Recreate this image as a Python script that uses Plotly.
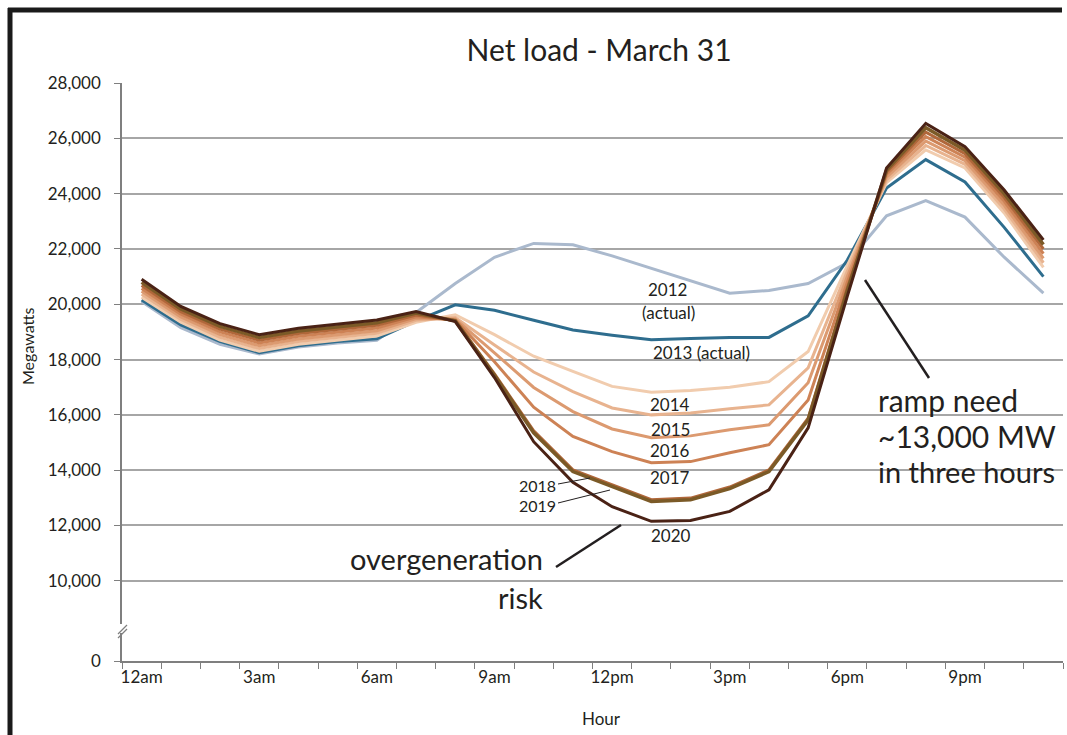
import plotly.graph_objects as go

# hourly net load (MW)
HOURS = list(range(24))
HOUR_TICKS = [0, 3, 6, 9, 12, 15, 18, 21]
HOUR_LABELS = ["12am", "3am", "6am", "9am", "12pm", "3pm", "6pm", "9pm"]

Y_TICKS = [10000, 12000, 14000, 16000, 18000, 20000, 22000, 24000, 26000, 28000]
Y_LABELS = ["10,000", "12,000", "14,000", "16,000", "18,000", "20,000",
            "22,000", "24,000", "26,000", "28,000"]
Y_BREAK_ZERO = 7100  # axis is broken: the "0" tick sits here

load_2012 = [20100, 19150, 18550, 18200, 18450, 18600, 18700, 19700, 20750, 21700,
             22200, 22150, 21750, 21300, 20850, 20400, 20500, 20750, 21500, 23200,
             23750, 23150, 21700, 20400]
load_2013 = [20150, 19250, 18650, 18250, 18500, 18650, 18750, 19400, 19980, 19780,
             19420, 19070, 18880, 18720, 18760, 18800, 18800, 19580, 21600, 24200,
             25230, 24420, 22780, 21000]
load_2014 = [20250, 19350, 18700, 18300, 18550, 18700, 18850, 19350, 19620, 18900,
             18120, 17570, 17030, 16820, 16880, 17000, 17200, 18290, 21400, 24400,
             25580, 24930, 23300, 21330]
load_2015 = [20360, 19450, 18800, 18400, 18650, 18800, 18950, 19420, 19520, 18530,
             17550, 16840, 16250, 16000, 16070, 16220, 16360, 17700, 21200, 24500,
             25740, 25060, 23440, 21500]
load_2016 = [20470, 19540, 18900, 18500, 18740, 18890, 19040, 19480, 19470, 18240,
             16990, 16120, 15490, 15170, 15240, 15460, 15640, 17160, 21000, 24600,
             25900, 25190, 23580, 21660]
load_2017 = [20570, 19640, 19000, 18600, 18840, 18990, 19140, 19550, 19430, 17920,
             16280, 15220, 14670, 14270, 14310, 14630, 14920, 16540, 20800, 24700,
             26060, 25320, 23720, 21830]
load_2018 = [20680, 19730, 19100, 18700, 18940, 19090, 19240, 19610, 19410, 17480,
             15420, 14010, 13460, 12930, 12990, 13390, 14010, 15880, 20600, 24780,
             26220, 25440, 23860, 22000]
load_2019 = [20790, 19830, 19200, 18800, 19030, 19180, 19330, 19680, 19400, 17430,
             15350, 13950, 13400, 12870, 12930, 13330, 13950, 15820, 20500, 24850,
             26380, 25570, 24000, 22160]
load_2020 = [20900, 19920, 19300, 18900, 19130, 19280, 19430, 19740, 19370, 17350,
             15030, 13560, 12680, 12150, 12180, 12510, 13290, 15530, 20300, 24930,
             26540, 25700, 24130, 22330]

series = [
    ("2012", load_2012, "#aab9cd", 3),
    ("2013", load_2013, "#2e6d8e", 3),
    ("2014", load_2014, "#f1ccae", 3),
    ("2015", load_2015, "#e8b38f", 3),
    ("2016", load_2016, "#dc9a70", 3),
    ("2017", load_2017, "#cd8255", 3),
    ("2018", load_2018, "#b0673a", 3),
    ("2019", load_2019, "#7b5a27", 3.5),
    ("2020", load_2020, "#4a2215", 3),
]

FONT = "Lato, 'Open Sans', sans-serif"
TEXT = "#231f20"

# plot area in page pixels
PL, PR, PT, PB = 122, 1063, 83, 661


def paper(xp, yp):
    """page pixel -> paper coords"""
    return (xp - PL) / (PR - PL), (PB - yp) / (PB - PT)


fig = go.Figure()
for name, vals, color, width in series:
    fig.add_trace(go.Scatter(
        x=HOURS, y=vals, mode="lines", name=name,
        line=dict(color=color, width=width),
        hoverinfo="x+y+name"
    ))


def label(text, xp, yp, size=17, xanchor="center", angle=0):
    x, y = paper(xp, yp)
    fig.add_annotation(x=x, y=y, xref="paper", yref="paper", text=text,
                       showarrow=False, xanchor=xanchor, yanchor="middle",
                       textangle=angle, borderpad=0,
                       font=dict(family=FONT, size=size, color=TEXT))


def line(x0, y0, x1, y1, color="#231f20", width=2.5):
    a, b = paper(x0, y0)
    c, d = paper(x1, y1)
    fig.add_shape(type="line", xref="paper", yref="paper", x0=a, y0=b, x1=c, y1=d,
                  line=dict(color=color, width=width))


# year labels
label("2012", 667, 289)
label("(actual)", 668, 312)
label("2013 (actual)", 701, 352)
label("2014", 670, 404)
label("2015", 670, 429)
label("2016", 670, 450)
label("2017", 670, 477)
label("2020", 671, 535)
label("2018", 557, 485, size=16, xanchor="right")
label("2019", 557, 505, size=16, xanchor="right")
line(558, 484, 590, 478, width=1)
line(558, 503, 610, 490, width=1)

# callouts
label("overgeneration", 544, 558, size=29, xanchor="right")
label("risk", 544, 597, size=29, xanchor="right")
line(556, 567, 621, 525)
label("ramp need", 877, 400, size=30, xanchor="left")
label("~13,000 MW", 877, 436, size=30, xanchor="left")
label("in three hours", 877, 471, size=29, xanchor="left")
line(865, 280, 929, 378)

# axis titles
label("Megawatts", 27, 346, size=16, angle=-90)
label("Hour", 601, 718, size=17)

# y-axis break marks
fig.add_shape(type="rect", xref="paper", yref="paper",
              x0=paper(119, 0)[0], x1=paper(125, 0)[0],
              y0=paper(0, 633)[1], y1=paper(0, 624)[1],
              fillcolor="white", line=dict(width=0))
line(118, 634, 127, 625, color="#7f7f7f", width=1.2)
line(118, 638, 127, 629, color="#7f7f7f", width=1.2)

# frame of the original slide
line(10, 8, 10, 740, color="#1a1a1a", width=5)
line(8, 10, 1062, 10, color="#1a1a1a", width=5)

fig.update_layout(
    width=1067, height=735,
    margin=dict(l=PL, r=1067 - PR, t=PT, b=735 - PB),
    paper_bgcolor="white", plot_bgcolor="white",
    showlegend=False,
    font=dict(family=FONT, color=TEXT),
    title=dict(text="Net load - March 31", xref="container", yref="container",
               x=599 / 1067, y=1 - 50 / 735, xanchor="center", yanchor="middle",
               font=dict(family=FONT, size=30, color=TEXT)),
    xaxis=dict(
        range=[-0.5, 23.5], tickvals=HOUR_TICKS, ticktext=HOUR_LABELS,
        ticks="", showgrid=False, zeroline=False,
        showline=True, linecolor="#7f7f7f", linewidth=1.5,
        tickfont=dict(family=FONT, size=17, color=TEXT),
        minor=dict(tick0=-0.5, dtick=1, ticks="outside", ticklen=6,
                   tickwidth=1.2, tickcolor="#7f7f7f", showgrid=False),
    ),
    yaxis=dict(
        range=[Y_BREAK_ZERO, 28000],
        tickvals=[Y_BREAK_ZERO] + Y_TICKS, ticktext=["0"] + Y_LABELS,
        ticks="outside", ticklen=6, tickwidth=1.2, tickcolor="#7f7f7f",
        ticklabelstandoff=10,
        showgrid=True, gridcolor="#a6a6a6", gridwidth=1.5, zeroline=False,
        showline=True, linecolor="#7f7f7f", linewidth=1.5,
        tickfont=dict(family=FONT, size=17, color=TEXT),
    ),
)

fig.write_html("out.html", config={"displayModeBar": False},
               post_script="document.body.style.margin = '0';")
